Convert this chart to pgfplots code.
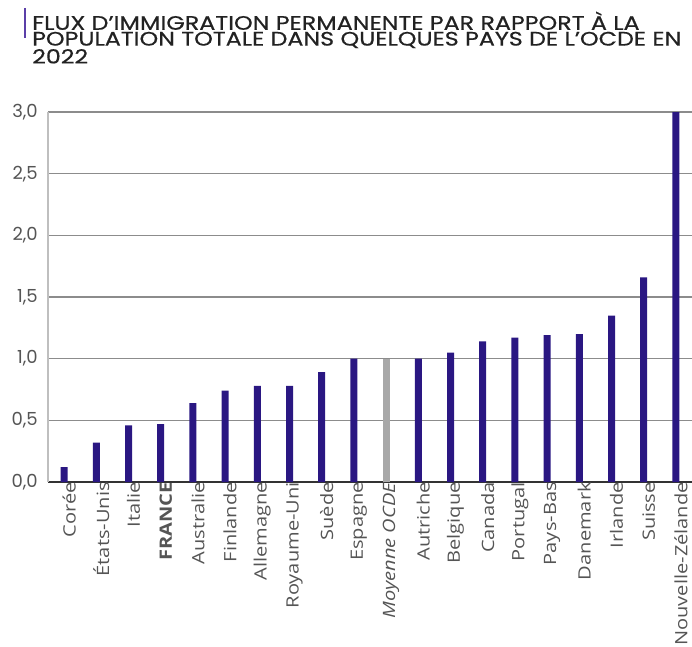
\documentclass[border=0pt]{standalone}
\usepackage{fontspec}
\setmainfont{Open Sans}
\newfontfamily\popfont{Poppins}
\newfontfamily\labfont[FakeStretch=1.18]{Open Sans}
\newfontfamily\titlefont[FakeStretch=1.22, FakeBold=0.6]{Poppins}
\usepackage{pgfplots}
\pgfplotsset{compat=1.18}
\definecolor{barc}{HTML}{2A1782}
\definecolor{moyc}{HTML}{A8A8A8}
\definecolor{titlec}{HTML}{222222}
\definecolor{titlebar}{HTML}{5B3FA8}
\definecolor{tickc}{HTML}{555555}

\begin{document}
\begin{tikzpicture}[x=1pt,y=1pt]
% plot area origin = pixel (48,482) of the reference
\begin{axis}[
  scale only axis, width=644pt, height=370pt,
  xmin=-0.5, xmax=19.5, ymin=0, ymax=3,
  axis x line*=bottom, axis y line*=left,
  x axis line style={color=black!80, line width=2.4pt},
  y axis line style={color=black!25, line width=1.2pt},
  ymajorgrids, major grid style={color=black!45, line width=1.2pt},
  ytick={0,0.5,...,3},
  xtick={0,...,19},
  xticklabels={Corée, États-Unis, Italie, \textbf{FRANCE}, Australie, Finlande,
    Allemagne, Royaume-Uni, Suède, Espagne, \textit{Moyenne OCDE}, Autriche,
    Belgique, Canada, Portugal, Pays-Bas, Danemark, Irlande, Suisse, Nouvelle-Zélande},
  major tick length=0pt,
  /pgf/number format/.cd, fixed, fixed zerofill, precision=1, use comma, assume math mode=true,
  /pgfplots/.cd,
  yticklabel style={font=\popfont\fontsize{18}{18}\selectfont, text=tickc, anchor=east, inner sep=0pt, xshift=-10pt},
  xticklabel style={font=\labfont\fontsize{17}{17}\selectfont, text=tickc, rotate=90, anchor=east, inner sep=0pt, yshift=-5pt},
  ybar, bar width=7pt, bar shift=0pt,
  clip=false,
]
\addplot[fill=barc, draw=none] coordinates {
  (0,0.12) (1,0.32) (2,0.46) (3,0.47) (4,0.64) (5,0.74) (6,0.78) (7,0.78)
  (8,0.89) (9,1.00) (11,1.00) (12,1.05) (13,1.14) (14,1.17) (15,1.19)
  (16,1.20) (17,1.35) (18,1.66) (19,3.00)
};
\addplot[fill=moyc, draw=none] coordinates {(10,1.00)};
\end{axis}
\draw[titlebar, line width=1.5pt] (-23,474) -- (-23,444);
% multi-line node: base anchor sits on the last line
\node[anchor=base west, inner sep=0pt, text=titlec, align=left,
  font=\titlefont\fontsize{19.5}{15.8}\selectfont] at (-16,418.5)
  {FLUX D’IMMIGRATION PERMANENTE PAR RAPPORT À LA\\
   POPULATION TOTALE DANS QUELQUES PAYS DE L’OCDE EN\\
   2022};
\pgfresetboundingbox
\path[use as bounding box] (-48,-164) rectangle (644,482);
\end{tikzpicture}
\end{document}
